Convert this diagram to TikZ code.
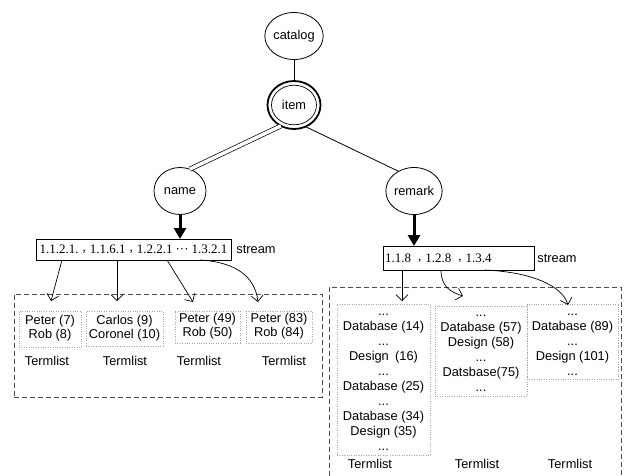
\documentclass[tikz,border=0pt]{standalone}
\usepackage{fontspec}
\setmainfont{Liberation Sans}
\newfontfamily\numfont{Liberation Serif}
\usetikzlibrary{arrows.meta,shapes.geometric}

% raised separator used between the stream positions
\newcommand{\sepmark}{\hspace{4pt}\raisebox{.3ex}{,}\hspace{4pt}}

\begin{document}
\begin{tikzpicture}[x=1pt,y=-1pt,
  every node/.style={font=\fontsize{12.8}{15}\selectfont, inner sep=0pt, outer sep=0pt},
  tag/.style={draw, ellipse, line width=0.8pt, minimum width=52pt, minimum height=47pt},
  streambox/.style={draw, line width=0.8pt, font=\numfont\fontsize{13}{15}\selectfont},
  group/.style={draw=black!70, dash pattern=on 5pt off 3pt, line width=0.8pt},
  tlbox/.style={draw=black!35, dash pattern=on 0.8pt off 1.6pt, line width=0.7pt, align=center},
  edge/.style={line width=0.8pt},
  feed/.style={line width=3pt, -{Triangle[length=11pt,width=12pt]}},
  link/.style={line width=0.7pt, -{Straight Barb[length=6pt,width=12pt]}},
]
\useasboundingbox (0,0) rectangle (626,475);

% dashed groups holding the term lists
\node[group, minimum width=308pt, minimum height=103pt] (leftgroup) at (168,345.5) {};
\node[group, minimum width=292pt, minimum height=200pt] (rightgroup) at (475,387) {};

% tree
\node[tag] (catalog) at (294,36) {catalog};
\node[tag, line width=1.8pt, minimum width=53pt, minimum height=48pt] (item) at (294,105) {item};
\draw[line width=0.7pt] (item.center) ellipse [x radius=22.5pt, y radius=19.8pt];
\node[tag] (name) at (180,191) {name};
\node[tag, minimum width=54pt] (remark) at (414,191) {remark};

\draw[edge] (catalog) -- (item);
\draw[line width=0.7pt, double, double distance=3.5pt] (item.238) -- (name.66);
\draw[edge] (item.-62) -- (remark.128);

% streams
\node[streambox, minimum width=195pt, minimum height=21pt] (s1) at (133.5,249.5)
  {1.1.2.1.\sepmark 1.1.6.1\sepmark 1.2.2.1\hspace{3pt}···\hspace{3pt}1.3.2.1};
\node (s1lab) at (256,249) {stream};
\node[draw, line width=0.8pt, minimum width=151pt, minimum height=24pt] (s2) at (458.5,258) {};
\node[anchor=west, font=\numfont\fontsize{13}{15}\selectfont] (s2txt) at (385,258)
  {1.1.8\hspace{3pt}\sepmark 1.2.8\hspace{3pt}\sepmark 1.3.4};
\node (s2lab) at (557,258) {stream};

\draw[feed] (name.south) -- (s1.north -| name.south);
\draw[feed] (remark.south) -- (s2.north -| remark.south);

% term lists of the first stream
\node[tlbox, minimum width=62pt, minimum height=36pt, font=\fontsize{12.8}{14}\selectfont] (t1) at (50,329)
  {\strut Peter (7)\\Rob (8)\strut};
\node[tlbox, minimum width=77pt, minimum height=35pt, font=\fontsize{12.8}{14}\selectfont] (t2) at (124.5,328.5)
  {\strut Carlos (9)\\Coronel (10)\strut};
\node[tlbox, minimum width=65pt, minimum height=32pt, font=\fontsize{12.8}{14}\selectfont] (t3) at (207.5,327)
  {\strut Peter (49)\\Rob (50)\strut};
\node[tlbox, minimum width=66pt, minimum height=32pt, font=\fontsize{12.8}{14}\selectfont] (t4) at (279,327)
  {\strut Peter (83)\\Rob (84)\strut};
\node (c1) at (47,361) {Termlist};
\node (c2) at (125,361) {Termlist};
\node (c3) at (199,361) {Termlist};
\node (c4) at (284,361) {Termlist};

% term lists of the second stream
\node[tlbox, minimum width=93pt, minimum height=151pt] (r1) at (383.5,379.5)
  {\strut...\\Database (14)\\...\\Design\enspace(16)\\...\\Database (25)\\...\\Database (34)\\Design (35)\\...\strut};
\node[tlbox, minimum width=92pt, minimum height=88pt] (r2) at (481,351)
  {\strut...\\Database (57)\\Design (58)\\...\\Datsbase(75)\\...\strut};
\node[tlbox, minimum width=91pt, minimum height=74pt] (r3) at (572.5,342)
  {\strut...\\Database (89)\\...\\Design (101)\\...\strut};
\node (c5) at (370,464) {Termlist};
\node (c6) at (477,464) {Termlist};
\node (c7) at (570,464) {Termlist};

% positions in the streams and where their pointers land
\coordinate (p1) at (62,260);   \coordinate (q1) at (51,301);
\coordinate (p2) at (117,260);  \coordinate (q2) at (117,301);
\coordinate (p3) at (167,260);  \coordinate (q3) at (193,302);
\coordinate (p4) at (200,260);  \coordinate (q4) at (258,302);
\coordinate (p5) at (402,270);  \coordinate (q5) at (402,301);
\coordinate (p6) at (441,270);  \coordinate (q6) at (463,296);
\coordinate (p7) at (485,270);  \coordinate (q7) at (568,305);

\draw[link] (p1) -- (q1);
\draw[link] (p2) -- (q2);
\draw[link] (p3) -- (q3);
\draw[link] (p4) .. controls (235,262) and (255,276) .. (q4);
\draw[link] (p5) -- (q5);
\draw[link] (p6) .. controls (441,286) and (450,292) .. (q6);
\draw[link] (p7) .. controls (530,272) and (562,285) .. (q7);
\end{tikzpicture}
\end{document}
